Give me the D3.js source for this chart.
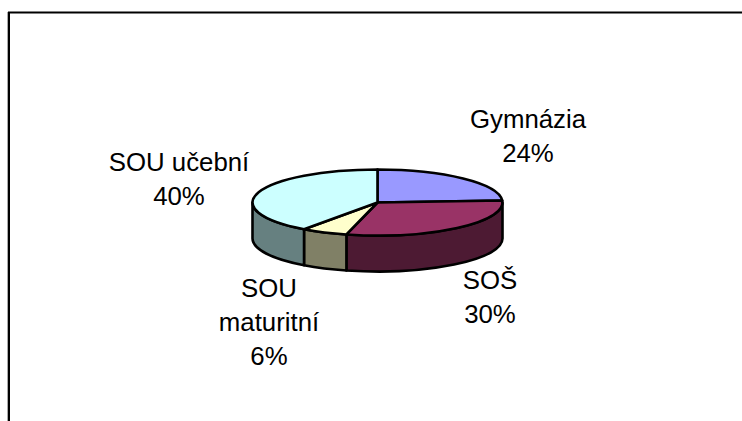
<!DOCTYPE html>
<html><head><meta charset="utf-8">
<script src="https://cdn.jsdelivr.net/npm/d3@7"></script>
<style>html,body{margin:0;padding:0;background:#fff}svg{display:block}text{font-family:"Liberation Sans",Arial,sans-serif;font-size:25.8px;fill:#000;text-anchor:middle}</style>
</head><body><script>
const categories=["Gymnázia","SOŠ","SOU maturitní","SOU učební"];
const values=[24,30,6,40];
const topColors=["#9999FF","#993366","#FFFFCC","#CCFFFF"];
const sideColors=["#4D4D80","#4D1A33","#808066","#668080"];
const labelLines=[["Gymnázia","24%"],["SOŠ","30%"],["SOU","maturitní","6%"],["SOU učební","40%"]];
const labelPos=[[528,127.5],[490,288.5],[269,296.5],[179,170.5]];
const W=742,H=421,cx=377.5,cy=202.5,rx=125,ry=33,depth=36,lineH=34.3;
const svg=d3.select("body").append("svg").attr("width",W).attr("height",H);
// frame
svg.append("path").attr("d",`M7.5 ${H}V12`).attr("stroke","#aaa").attr("stroke-width",1).attr("fill","none");
svg.append("path").attr("d",`M9 ${H}V12.5H${W}`).attr("stroke","#000").attr("stroke-width",2).attr("fill","none");
const pie=d3.pie().sort(null).value(d=>d);
const arcs=pie(values);
const px=a=>cx+rx*Math.sin(a), py=a=>cy-ry*Math.cos(a);
const g=svg.append("g").attr("stroke","#000").attr("stroke-width",2.6).attr("stroke-linejoin","round");
// side walls: visible between a quarter and three quarters of a turn
const lo=Math.PI/2,hi=3*Math.PI/2;
const sideData=arcs.map((d,i)=>({a0:Math.max(d.startAngle,lo),a1:Math.min(d.endAngle,hi),i})).filter(d=>d.a1>d.a0);
g.selectAll("path.side").data(sideData).join("path").attr("class","side")
 .attr("fill",d=>sideColors[d.i])
 .attr("d",d=>`M${px(d.a0)} ${py(d.a0)}A${rx} ${ry} 0 0 1 ${px(d.a1)} ${py(d.a1)}V${py(d.a1)+depth}A${rx} ${ry} 0 0 0 ${px(d.a0)} ${py(d.a0)+depth}Z`);
// top faces
g.selectAll("path.top").data(arcs).join("path").attr("class","top")
 .attr("fill",(d,i)=>topColors[i])
 .attr("d",d=>`M${cx} ${cy}L${px(d.startAngle)} ${py(d.startAngle)}A${rx} ${ry} 0 ${d.endAngle-d.startAngle>Math.PI?1:0} 1 ${px(d.endAngle)} ${py(d.endAngle)}Z`);
// labels
labelLines.forEach((lines,i)=>{
  const t=svg.append("text");
  lines.forEach((s,j)=>t.append("tspan").attr("x",labelPos[i][0]).attr("y",labelPos[i][1]+j*lineH).text(s));
});
</script></body></html>
